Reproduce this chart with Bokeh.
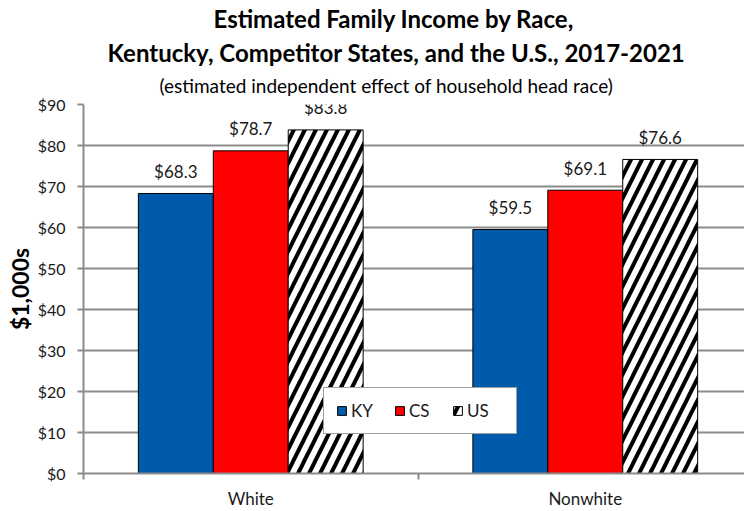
import numpy as np
from bokeh.plotting import figure
from bokeh.models import (ColumnDataSource, Range1d, FixedTicker, Title, Legend,
                          LegendItem, NumeralTickFormatter)
from bokeh.transform import dodge
from bokeh.core.properties import value
from bokeh.embed import file_html
from bokeh.resources import INLINE

# ---- data ----
categories = ["White", "Nonwhite"]
series = ["KY", "CS", "US"]
ky_values = [68.3, 59.5]
cs_values = [78.7, 69.1]
us_values = [83.8, 76.6]
y_ticks = [0, 10, 20, 30, 40, 50, 60, 70, 80, 90]

title_line1 = "Estimated Family Income by Race,"
title_line2 = "Kentucky, Competitor States, and the U.S., 2017-2021"
subtitle = "(estimated independent effect of household head race)"
y_label = "$1,000s"

FONT = "Lato"
TXT = "#1a1a1a"
GRID = "#8c8c8c"

centers = np.arange(len(categories)) + 0.5
source = ColumnDataSource(dict(
    pos=centers,
    KY=ky_values, CS=cs_values, US=us_values,
    KY_lab=[f"${v:.1f}" for v in ky_values],
    CS_lab=[f"${v:.1f}" for v in cs_values],
    US_lab=[f"${v:.1f}" for v in us_values],
))

p = figure(width=744, height=511, output_backend="svg", toolbar_location=None,
           x_range=Range1d(0, 1.976), y_range=Range1d(0, 90),
           min_border_left=83, min_border_right=0, min_border_top=0,
           min_border_bottom=35)
p.outline_line_color = None
p.background_fill_color = "white"

bar_w = 0.224
styles = {
    "KY": dict(fill_color="#005bac", line_color="black"),
    "CS": dict(fill_color="#ff0000", line_color="black"),
    "US": dict(fill_color="white", line_color="black", hatch_pattern="/",
               hatch_color="black", hatch_scale=22, hatch_weight=4),
}
renderers = {}
for i, s in enumerate(series):
    off = (i - 1) * bar_w
    renderers[s] = p.vbar(x=dodge("pos", off), top=s, width=bar_w, bottom=0,
                          source=source, line_width=1, **styles[s])
    p.text(x=dodge("pos", off), y=s, text=f"{s}_lab", source=source,
           text_align="center", text_baseline="middle", y_offset=-22,
           text_font=value(FONT), text_font_size="17px", text_color=TXT)

# axes
p.yaxis.ticker = FixedTicker(ticks=y_ticks)
p.yaxis.formatter = NumeralTickFormatter(format="$0")
p.yaxis.axis_line_color = GRID
p.yaxis.axis_line_width = 2
p.yaxis.major_tick_line_color = GRID
p.yaxis.major_tick_line_width = 2
p.yaxis.major_tick_out = 6
p.yaxis.major_tick_in = 0
p.yaxis.minor_tick_line_color = None
p.yaxis.major_label_standoff = 12
p.yaxis.major_label_text_font = FONT
p.yaxis.major_label_text_font_size = "16px"
p.yaxis.major_label_text_color = TXT
p.yaxis.axis_label = y_label
p.yaxis.axis_label_text_font = FONT
p.yaxis.axis_label_text_font_size = "23px"
p.yaxis.axis_label_text_font_style = "bold"
p.yaxis.axis_label_text_color = "black"
p.yaxis.axis_label_standoff = 1

p.xaxis.ticker = FixedTicker(ticks=list(centers),
                             minor_ticks=list(np.arange(len(categories) + 1)))
p.xaxis.major_label_overrides = {float(c): n for c, n in zip(centers, categories)}
p.xaxis.axis_line_color = GRID
p.xaxis.axis_line_width = 2
p.xaxis.major_tick_line_color = None
p.xaxis.major_tick_out = 6
p.xaxis.major_tick_in = 0
p.xaxis.minor_tick_line_color = GRID
p.xaxis.minor_tick_line_width = 2
p.xaxis.minor_tick_out = 6
p.xaxis.minor_tick_in = 0
p.xaxis.major_label_standoff = 8
p.xaxis.major_label_text_font = FONT
p.xaxis.major_label_text_font_size = "17px"
p.xaxis.major_label_text_color = TXT

p.xgrid.grid_line_color = None
p.ygrid.ticker = FixedTicker(ticks=y_ticks[1:])
p.ygrid.grid_line_color = GRID
p.ygrid.grid_line_width = 2

# titles: closest to the plot first
for txt, size, style, off, so in [(subtitle, "19px", "normal", 76, 10.6),
                                  (title_line2, "24px", "bold", 24, 0),
                                  (title_line1, "24px", "bold", 130, 6)]:
    p.add_layout(Title(text=txt, align="left", offset=off, vertical_align="top",
                       standoff=so, text_font=FONT, text_font_size=size,
                       text_font_style=style, text_color="black"), "above")

legend = Legend(items=[LegendItem(label=s, renderers=[renderers[s]]) for s in series],
                orientation="horizontal", location=(240, 39),
                border_line_color="#404040", border_line_width=1,
                background_fill_color="white", background_fill_alpha=1,
                padding=12, margin=0, spacing=6, label_standoff=4,
                glyph_width=11, glyph_height=11, label_width=37,
                label_text_font=FONT, label_text_font_size="17px",
                label_text_color=TXT)
p.add_layout(legend, "center")

open("out.html", "w").write(file_html(p, INLINE))
